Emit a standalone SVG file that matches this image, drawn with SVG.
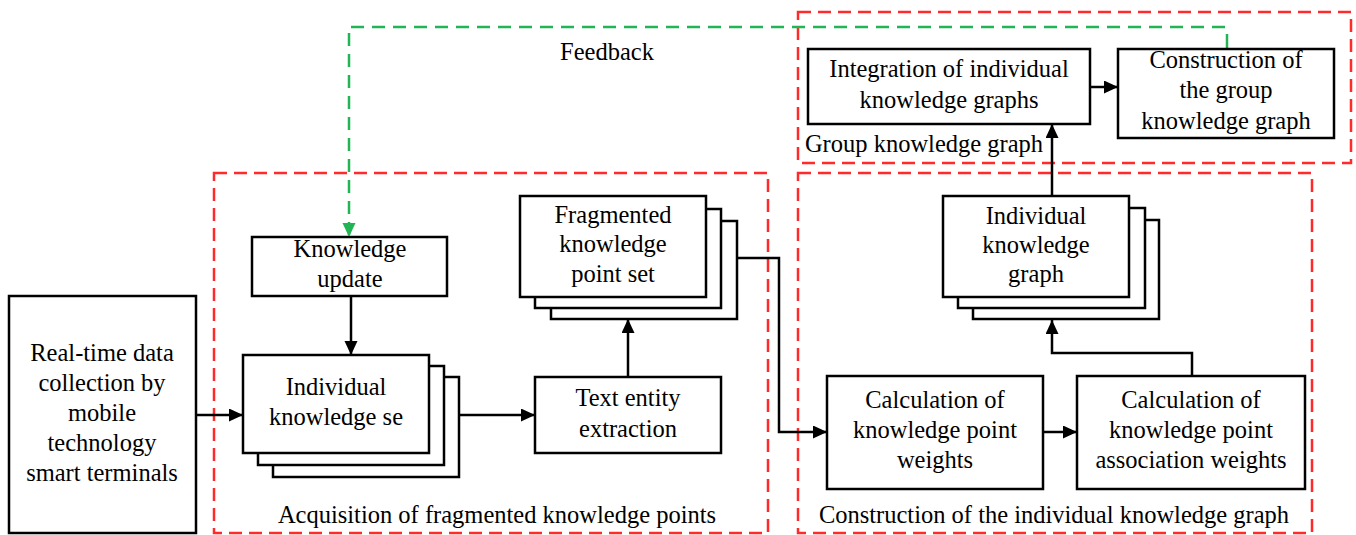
<svg xmlns="http://www.w3.org/2000/svg" width="1356" height="535" viewBox="0 0 1356 535">
<style>
.box{fill:#fff;stroke:#000;stroke-width:2.5}
.reg{fill:none;stroke:#ff2a2a;stroke-width:2.5;stroke-dasharray:13 7}
.t{font-family:"Liberation Serif","Times New Roman",serif;font-size:24.5px;fill:#000;text-anchor:middle}
.c{fill:none;stroke:#000;stroke-width:2.5}
.fb{fill:none;stroke:#22b455;stroke-width:2.5;stroke-dasharray:13 8}
</style>
<defs>
<marker id="ah" markerUnits="userSpaceOnUse" markerWidth="15" markerHeight="14" refX="14" refY="6.5" orient="auto"><path d="M0,0 L14,6.5 L0,13 z" fill="#000"/></marker>
<marker id="ahg" markerUnits="userSpaceOnUse" markerWidth="15" markerHeight="14" refX="14" refY="6.5" orient="auto"><path d="M0,0 L14,6.5 L0,13 z" fill="#22b455"/></marker>
</defs>
<rect width="1356" height="535" fill="#fff"/>

<g id="regions">
<rect class="reg" x="798" y="12" width="553" height="151"/>
<rect class="reg" x="214" y="173" width="554" height="360"/>
<rect class="reg" x="798" y="173" width="514" height="360"/>
<text class="t" x="924" y="152">Group knowledge graph</text>
<text class="t" x="497" y="523">Acquisition of fragmented knowledge points</text>
<text class="t" x="1054" y="523">Construction of the individual knowledge graph</text>
</g>

<g id="connectors">
<path class="c" d="M196,415 H243" marker-end="url(#ah)"/>
<path class="c" d="M351,296 V355" marker-end="url(#ah)"/>
<path class="c" d="M459,415 H535" marker-end="url(#ah)"/>
<path class="c" d="M628,377 V319" marker-end="url(#ah)"/>
<path class="c" d="M737,258 H779 V432 H827" marker-end="url(#ah)"/>
<path class="c" d="M1043,432 H1077" marker-end="url(#ah)"/>
<path class="c" d="M1192,376 V353 H1052 V320" marker-end="url(#ah)"/>
<path class="c" d="M1052,196 V124" marker-end="url(#ah)"/>
<path class="c" d="M1090,87 H1118" marker-end="url(#ah)"/>
<path class="fb" d="M1225,27 H349 V237" marker-end="url(#ahg)"/>
<path d="M1227,34 V49" stroke="#22b455" stroke-width="2.5" fill="none"/>
<text class="t" x="607" y="60">Feedback</text>
</g>

<g id="realtime">
<rect class="box" x="9" y="296" width="187" height="237"/>
<text class="t" x="102" y="361">Real-time data</text>
<text class="t" x="102" y="391">collection by</text>
<text class="t" x="102" y="421">mobile</text>
<text class="t" x="102" y="451">technology</text>
<text class="t" x="102" y="481">smart terminals</text>
</g>

<g id="knowledge-update">
<rect class="box" x="252" y="237" width="195" height="59"/>
<text class="t" x="350" y="257">Knowledge</text>
<text class="t" x="350" y="287">update</text>
</g>

<g id="individual-set">
<rect class="box" x="273" y="377" width="186" height="100"/>
<rect class="box" x="258" y="366" width="186" height="99"/>
<rect class="box" x="243" y="355" width="186" height="98"/>
<text class="t" x="336" y="395">Individual</text>
<text class="t" x="336" y="425">knowledge se</text>
</g>

<g id="text-entity">
<rect class="box" x="535" y="377" width="186" height="76"/>
<text class="t" x="628" y="406">Text entity</text>
<text class="t" x="628" y="437">extraction</text>
</g>

<g id="fragmented">
<rect class="box" x="551" y="221" width="186" height="98"/>
<rect class="box" x="535" y="209" width="186" height="99"/>
<rect class="box" x="520" y="196" width="186" height="101"/>
<text class="t" x="613" y="223">Fragmented</text>
<text class="t" x="613" y="252">knowledge</text>
<text class="t" x="613" y="282">point set</text>
</g>

<g id="calc-weights">
<rect class="box" x="827" y="376" width="216" height="113"/>
<text class="t" x="935" y="408">Calculation of</text>
<text class="t" x="935" y="438">knowledge point</text>
<text class="t" x="935" y="468">weights</text>
</g>

<g id="calc-assoc">
<rect class="box" x="1077" y="376" width="228" height="113"/>
<text class="t" x="1191" y="408">Calculation of</text>
<text class="t" x="1191" y="438">knowledge point</text>
<text class="t" x="1191" y="468">association weights</text>
</g>

<g id="individual-graph">
<rect class="box" x="973" y="220" width="186" height="99"/>
<rect class="box" x="958" y="208" width="187" height="100"/>
<rect class="box" x="943" y="196" width="186" height="101"/>
<text class="t" x="1036" y="224">Individual</text>
<text class="t" x="1036" y="253">knowledge</text>
<text class="t" x="1036" y="282">graph</text>
</g>

<g id="integration">
<rect class="box" x="808" y="49" width="282" height="75"/>
<text class="t" x="949" y="77">Integration of individual</text>
<text class="t" x="949" y="108">knowledge graphs</text>
</g>

<g id="group-construction">
<rect class="box" x="1118" y="49" width="216" height="89"/>
<text class="t" x="1226" y="68">Construction of</text>
<text class="t" x="1226" y="98">the group</text>
<text class="t" x="1226" y="129">knowledge graph</text>
</g>
</svg>
